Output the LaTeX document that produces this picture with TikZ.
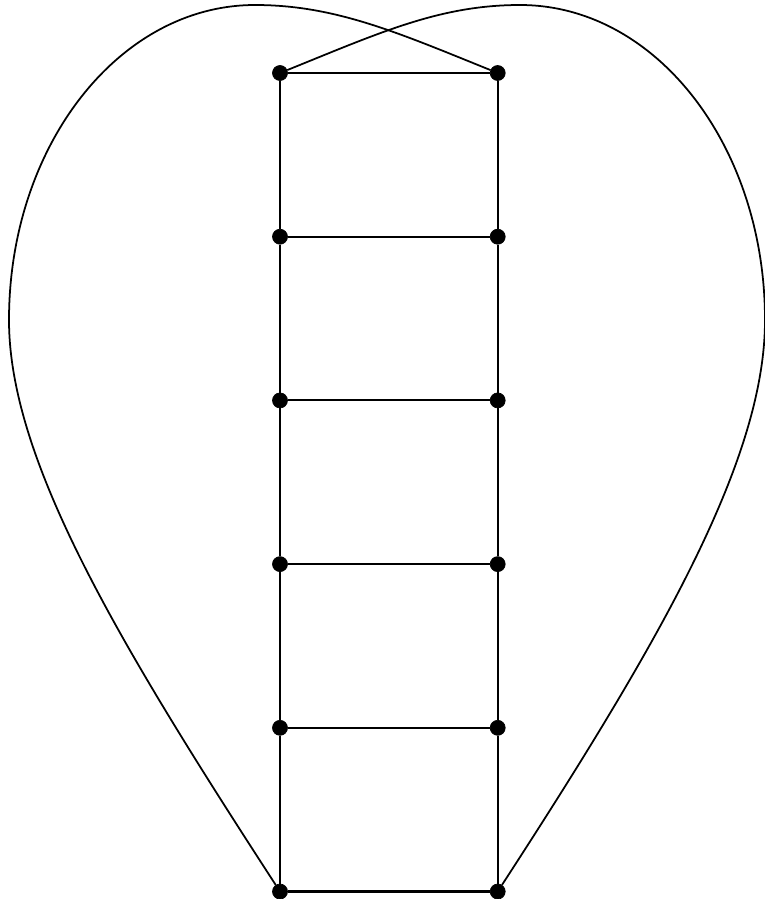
\documentclass[tikz,border=0pt]{standalone}
\usetikzlibrary{positioning}

\begin{document}
\begin{tikzpicture}[
    vNode/.style={circle, draw, fill=black, inner sep=0pt, minimum size=3mm},
    edge/.style={draw, line width=1.2pt},
    lobe/.style={draw, line width=1pt}
]
    \useasboundingbox (0,0) rectangle (15.3,-17.98);
    \node[vNode] (L1) at (5.6,-1.46) {};
    \node[vNode, right=4.04cm of L1] (R1) {};
    \node[vNode, below=2.96cm of L1] (L2) {};
    \node[vNode, right=4.04cm of L2] (R2) {};
    \node[vNode, below=2.96cm of L2] (L3) {};
    \node[vNode, right=4.04cm of L3] (R3) {};
    \node[vNode, below=2.96cm of L3] (L4) {};
    \node[vNode, right=4.04cm of L4] (R4) {};
    \node[vNode, below=2.96cm of L4] (L5) {};
    \node[vNode, right=4.04cm of L5] (R5) {};
    \node[vNode, below=2.96cm of L5] (L6) {};
    \node[vNode, right=4.04cm of L6] (R6) {};
    \path[edge] (L1) -- (L2) (L2) -- (L3) (L3) -- (L4) (L4) -- (L5) (L5) -- (L6);
    \path[edge] (R1) -- (R2) (R2) -- (R3) (R3) -- (R4) (R4) -- (R5) (R5) -- (R6);
    \path[edge] (L1) -- (R1) (L2) -- (R2) (L3) -- (R3) (L4) -- (R4) (L5) -- (R5) (L6) -- (R6);

    % the two crossing lobes
    \coordinate (tL) at (5.1,-0.1);
    \coordinate (sL) at (0.18,-6.4);
    \coordinate (tR) at (10.4,-0.1);
    \coordinate (sR) at (15.3,-6.4);
    \path[lobe] (R1) to[out=158, in=0, out distance=2cm, in distance=1.6cm] (tL)
        to[out=180, in=90, out distance=2.72cm, in distance=3.48cm] (sL)
        to[out=-90, in=123, out distance=2.8cm, in distance=5.8cm] (L6);
    \path[lobe] (L1) to[out=22, in=180, out distance=2cm, in distance=1.6cm] (tR)
        to[out=0, in=90, out distance=2.72cm, in distance=3.48cm] (sR)
        to[out=-90, in=57, out distance=2.8cm, in distance=5.8cm] (R6);
\end{tikzpicture}
\end{document}
